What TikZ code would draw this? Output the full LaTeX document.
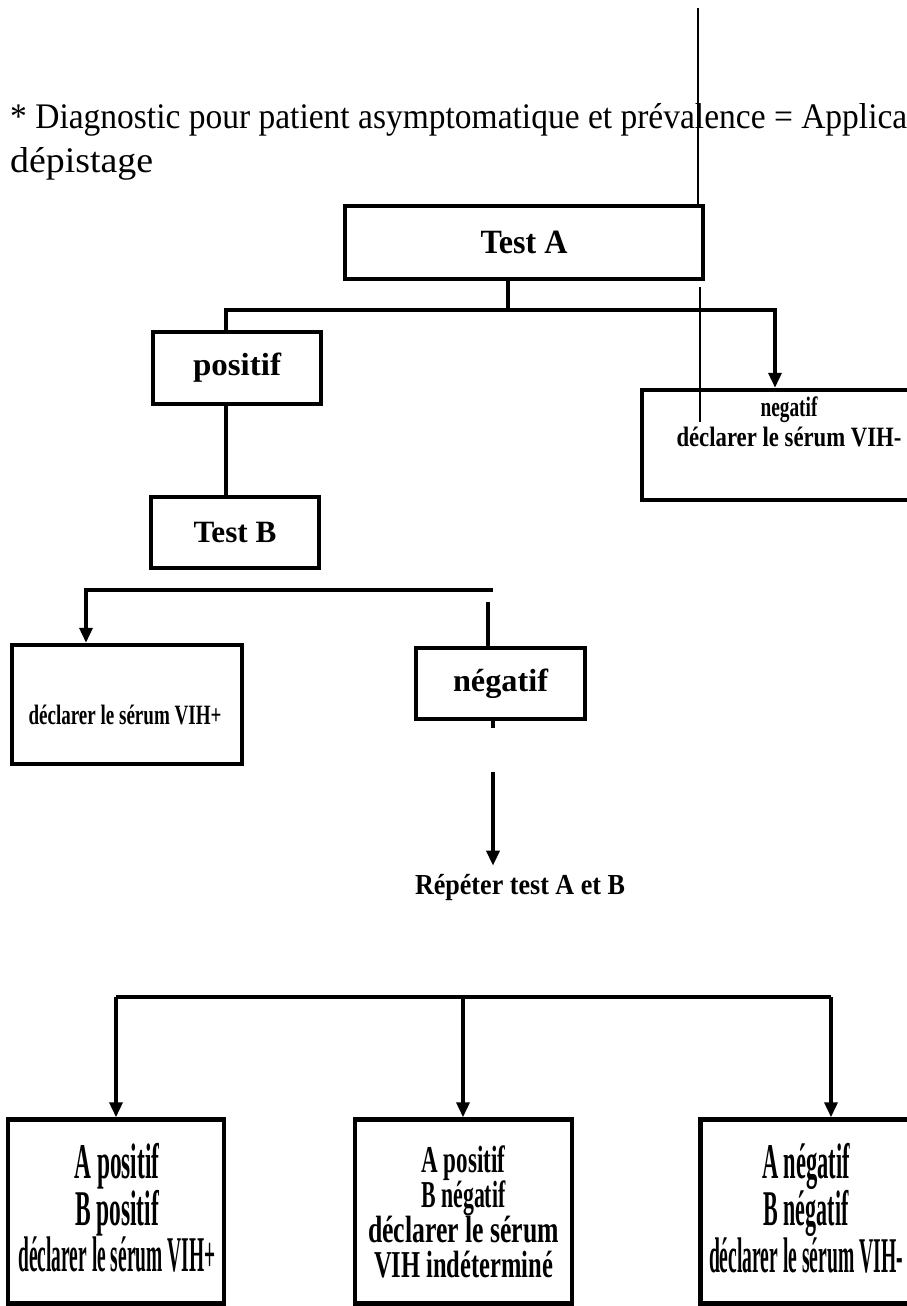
\documentclass[tikz,border=0pt]{standalone}
\usepackage{fontspec}
\setmainfont{Liberation Serif}
\usetikzlibrary{arrows.meta}
\newsavebox\fitbox
\newcommand\fitw[2]{\sbox\fitbox{#2}\scalebox{\fpeval{#1/\the\wd\fitbox}}[1]{\usebox\fitbox}}
\begin{document}
\begin{tikzpicture}[x=1pt,y=-1pt,
  box/.style={draw,line width=4.5pt,rectangle,inner sep=0pt,align=center},
  conn/.style={line width=3.5pt},
  arr/.style={-{Triangle[width=13pt,length=15pt]}},
  thinln/.style={line width=1.5pt},
  lbl/.style={inner sep=0pt,align=center}]
\useasboundingbox (0,0) rectangle (907,1306);
\clip (0,0) rectangle (907,1306);

% heading text
\node[lbl,anchor=west,font=\fontsize{36}{40}\selectfont] (title) at (10,120)
  {\fitw{897}{* Diagnostic pour patient asymptomatique et prévalence = Applica}};
\node[lbl,anchor=west,font=\fontsize{36}{40}\selectfont] (dep) at (10,164)
  {\fitw{143}{dépistage}};

% boxes
\node[box,minimum width=358pt,minimum height=73pt,font=\fontsize{34}{40}\selectfont\bfseries] (tA) at (524,242.5) {\fitw{87}{Test A}};
\node[box,minimum width=168pt,minimum height=72pt,font=\fontsize{32}{40}\selectfont\bfseries] (pos) at (237,368) {\fitw{88}{positif}};
\node[box,minimum width=168pt,minimum height=71pt,font=\fontsize{31}{40}\selectfont\bfseries] (tB) at (235,532.5) {\fitw{83}{Test B}};
\node[box,minimum width=282pt,minimum height=110pt] (negR) at (783,445) {};
\node[lbl,font=\fontsize{28}{30}\selectfont\bfseries] (negRt) at (789,422)
  {\fitw{57}{negatif}\\ \fitw{225}{déclarer le sérum VIH-}};
\node[box,minimum width=230pt,minimum height=119pt] (vihp) at (127,704.5) {};
\node[lbl,font=\fontsize{28}{30}\selectfont\bfseries] (vihpt) at (125,715) {\fitw{193}{déclarer le sérum VIH+}};
\node[box,minimum width=169pt,minimum height=71pt,font=\fontsize{32}{40}\selectfont\bfseries] (negm) at (500.5,683.5) {\fitw{95}{négatif}};
\node[lbl,font=\fontsize{29}{32}\selectfont\bfseries] (rep) at (520,888) {\fitw{210}{Répéter test A et B}};

\node[box,minimum width=216pt,minimum height=184pt] (bl) at (116,1211.5) {};
\node[lbl,font=\fontsize{50}{44}\selectfont\bfseries] (blt) at (117,1208)
  {\fitw{85}{A positif}\\ \fitw{84}{B positif}\\ \fitw{197}{déclarer le sérum VIH+}};
\node[box,minimum width=217pt,minimum height=184pt,font=\fontsize{38}{35}\selectfont\bfseries] (bm) at (463.5,1211.5)
  {\fitw{84}{A positif}\\ \fitw{84}{B négatif}\\ \fitw{191}{déclarer le sérum}\\ \fitw{179}{VIH indéterminé}};
\node[box,minimum width=223pt,minimum height=184pt] (br) at (812,1211.5) {};
\node[lbl,font=\fontsize{50}{44}\selectfont\bfseries] (brt) at (806,1208)
  {\fitw{88}{A négatif}\\ \fitw{85}{B négatif}\\ \fitw{194}{déclarer le sérum VIH-}};

% thin vertical line
\coordinate (t0) at (698,8);
\coordinate (t1) at (700,287);
\coordinate (t2) at (700,422);
\draw[thinln] (t0) -- (tA.north -| t0);
\draw[thinln] (t1) -- (t2);

% Test A branches
\coordinate (hA) at (508,310);
\coordinate (hAl) at (226,310);
\coordinate (hAr) at (775,310);
\draw[conn] (tA.south -| hA) -- (hA);
\draw[conn,arr] (pos.north -| hAl) -- (hAl) -- (hAr) -- (negR.north -| hAr);
\draw[conn] (pos.south -| hAl) -- (tB.north -| hAl);

% Test B branches
\coordinate (hBl) at (86,590);
\coordinate (hBr) at (493,590);
\coordinate (dB) at (488,602);
\draw[conn,arr] (hBr) -- (hBl) -- (vihp.north -| hBl);
\draw[conn] (dB) -- (negm.north -| dB);
\coordinate (stub) at (493,728);
\draw[conn] (negm.south -| stub) -- (stub);
\coordinate (rs) at (493,772);
\draw[conn,arr] (rs) -- ([yshift=9pt]rep.north -| rs);

% final branches
\coordinate (hCl) at (116,997);
\coordinate (hCm) at (463,997);
\coordinate (hCr) at (831,997);
\draw[conn] (hCl) -- (hCr);
\draw[conn,arr] (hCl) -- (bl.north -| hCl);
\draw[conn,arr] (hCm) -- (bm.north -| hCm);
\draw[conn,arr] (hCr) -- (br.north -| hCr);
\end{tikzpicture}
\end{document}
